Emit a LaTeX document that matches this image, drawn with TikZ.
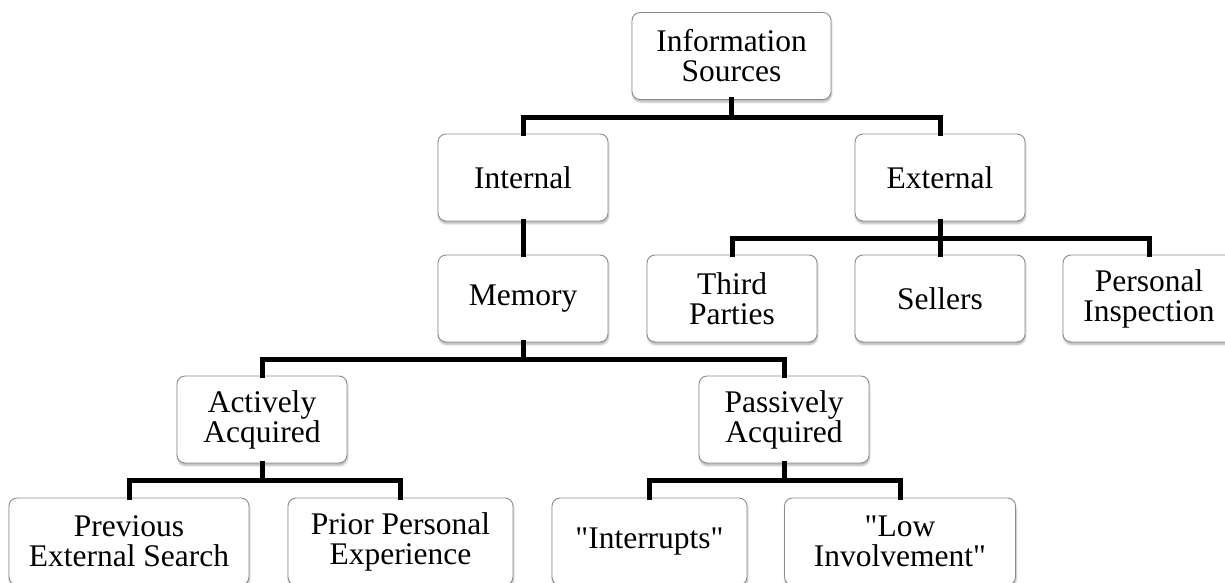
\documentclass[tikz,border=0pt]{standalone}
\usepackage{fontspec}
\setmainfont{Liberation Serif}[Ligatures=TeXOff]
\usetikzlibrary{shadows.blur}
\definecolor{boxedge}{HTML}{8C8C8C}
\tikzset{
  box/.style={draw=boxedge, line width=0.9pt, fill=white, rounded corners=8pt,
    minimum height=87pt, inner sep=2pt, align=center, text=black,
    font=\fontsize{31.5pt}{30pt}\selectfont,
    blur shadow={shadow xshift=0.5pt, shadow yshift=-2.5pt, shadow blur steps=6, shadow opacity=30}},
  conn/.style={line width=5pt, draw=black, line join=miter, line cap=rect}
}
\begin{document}
\begin{tikzpicture}[x=1pt, y=-1pt]
\useasboundingbox (0,0) rectangle (1225,583);
\path
  (731.5,56)  node[box, minimum width=199pt] (info) {Information\\Sources}
  (523,177.5) node[box, minimum width=170pt] (internal) {Internal}
  (940,177.5) node[box, minimum width=170pt] (external) {External}
  (523,298.5) node[box, minimum width=170pt] (memory) {Memory}
  (732,298.5) node[box, minimum width=170pt] (third) {Third\\Parties}
  (940,298.5) node[box, minimum width=170pt] (sellers) {Sellers}
  (1149,298.5) node[box, minimum width=172pt] (pi) {Personal\\Inspection}
  (262,419.5) node[box, minimum width=170pt] (active) {Actively\\Acquired}
  (784,419.5) node[box, minimum width=170pt] (passive) {Passively\\Acquired}
  (129,541.5) node[box, minimum width=240pt] (pes) {Previous\\External Search}
  (400.5,541.5) node[box, minimum width=225pt] (ppe) {Prior Personal\\Experience}
  (649.5,541.5) node[box, minimum width=195pt] (intr) {"Interrupts"}
  (900,541.5) node[box, minimum width=231pt] (li) {"Low\\Involvement"};
\draw[conn] (info.south) -- ++(0,-17.5pt) -| (internal.north);
\draw[conn] (info.south) -- ++(0,-17.5pt) -| (external.north);
\draw[conn] (internal.south) -- (memory.north);
\draw[conn] (external.south) -- ++(0,-17pt) -| (third.north);
\draw[conn] (external.south) -- (sellers.north);
\draw[conn] (external.south) -- ++(0,-17pt) -| (pi.north);
\draw[conn] (memory.south) -- ++(0,-17pt) -| (active.north);
\draw[conn] (memory.south) -- ++(0,-17pt) -| (passive.north);
\draw[conn] (active.south) -- ++(0,-17.5pt) -| (pes.north);
\draw[conn] (active.south) -- ++(0,-17.5pt) -| (ppe.north);
\draw[conn] (passive.south) -- ++(0,-17.5pt) -| (intr.north);
\draw[conn] (passive.south) -- ++(0,-17.5pt) -| (li.north);
\end{tikzpicture}
\end{document}
